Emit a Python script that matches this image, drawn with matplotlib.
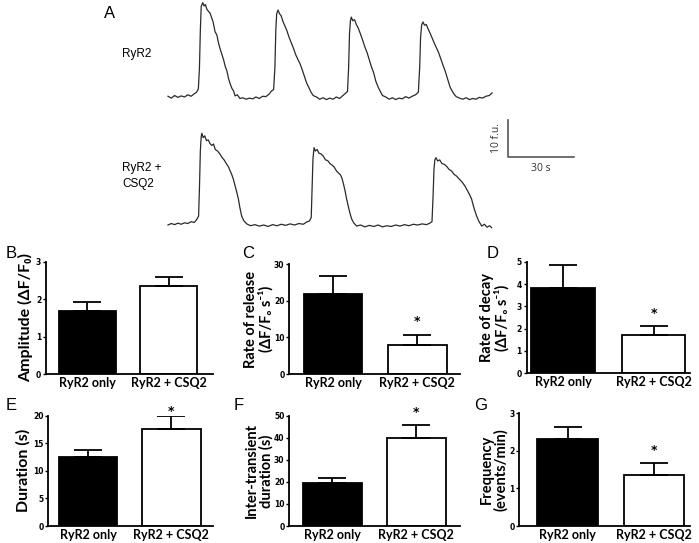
import matplotlib
matplotlib.use("Agg")
import matplotlib.pyplot as plt

# ---- panel A: raw fluorescence traces (time in s, signal in f.u.) ----
ryr2_t = [0, 1.5, 3, 4.5, 6, 7.5, 9, 10.5, 12, 13, 13.8, 14.3, 14.7, 15.1, 15.8, 16.4, 17.0, 17.6,
          18.3, 19.1, 19.8, 20.5, 21.4, 22.2, 23.0, 23.6, 24.5, 25.3, 26.0, 26.8, 27.5, 28.3, 29.0,
          29.8, 30.5, 31.5, 32.7, 34, 35.5, 37, 38.5, 40, 41.5, 43, 44.5, 46, 47, 48.0,
          48.6, 49.0, 49.4, 50.0, 50.7, 51.4, 52.2, 53.0, 54.0, 55.0, 55.8, 57.0, 58.0, 59.0, 60.0,
          61.0, 62.0, 63.0, 64.0, 65.0, 66.0, 67.5, 69, 70.5, 72, 73.5, 75, 76.5, 78, 79.5, 80.8, 81.6,
          82.1, 82.5, 82.9, 83.3, 84.0, 84.8, 85.6, 86.5, 87.5, 88.5, 89.5, 90.5, 91.5, 92.5, 93.5,
          94.5, 95.5, 96.5, 97.5, 99, 100.5, 102, 103.5, 105, 106.5, 108, 109.5, 111, 112.5, 113.8,
          114.4, 114.8, 115.3, 115.9, 116.6, 117.4, 118.3, 119.1, 120.0, 121.0, 122.0, 123.0, 124.0,
          125.0, 126.0, 127.0, 128.2, 129.0, 130.0, 131.0, 132.5, 134, 135.5, 137, 138.5, 140, 141.5,
          143, 144.5, 146, 147.3]
ryr2_f = [0.2, -0.3, 0.4, -0.1, 0.3, 0.0, 0.6, 0.2, 0.9, 1.3, 2.2, 8, 18, 24.5, 25.5, 24.6, 25.0, 23.8,
          23.2, 22.7, 21.5, 20.3, 17.6, 16.8, 14.5, 13.2, 11.5, 10.0, 8.3, 7.0, 5.0, 3.5, 2.4,
          1.6, 0.3, 0.6, -0.4, -0.2, -0.6, -0.3, -0.5, 0.0, -0.4, 0.2, 0.1, 0.8, 1.6, 2.0,
          8, 18, 22.5, 23.5, 22.5, 22.0, 20.5, 19.4, 18.0, 16.2, 15.0, 13.2, 11.5, 10.2, 9.0,
          7.4, 5.6, 3.8, 2.6, 1.3, 0.4, 0.0, -0.6, -0.2, -0.7, -0.3, -0.6, 0.0, -0.4, 0.4, 1.1, 1.5,
          8, 17, 20.5, 21.6, 20.6, 20.9, 19.6, 18.6, 17.0, 15.3, 13.5, 12.0, 10.0, 8.1, 6.5,
          4.2, 2.7, 1.5, 0.4, 0.0, -0.6, -0.2, -0.7, -0.3, -0.5, 0.1, -0.3, 0.2, 0.6, 1.3,
          8, 16, 19.5, 20.3, 19.4, 19.6, 18.3, 17.3, 16.0, 14.6, 13.3, 12.0, 10.3,
          8.6, 7.0, 5.0, 2.7, 1.8, 0.8, 0.1, -0.3, -0.6, -0.2, -0.7, -0.4, -0.6, -0.1,
          -0.3, 0.2, 0.4, 1.1]

csq2_t = [0, 1.5, 3, 4.5, 6, 7.5, 9, 10.5, 12, 13.2, 13.9, 14.3, 14.7, 15.1, 15.4, 16.0, 16.7, 17.5,
          18.3, 19.1, 19.9, 20.7, 21.5, 22.5, 23.6, 24.5, 25.5, 26.5, 27.4, 28.2, 29.0, 29.7, 30.4,
          31.2, 32.0, 32.7, 33.5, 34.5, 35.8, 37.5, 39.5, 41.5, 43.5, 45.5, 47.5, 49.5, 51.5, 53.5,
          55.5, 57.5, 59.5, 61.5, 63.0, 64.3, 65.1,
          65.5, 65.9, 66.4, 67.0, 67.8, 68.6, 69.6, 70.6, 71.6, 72.6, 73.6, 74.6, 75.6, 76.6, 77.6,
          78.3, 79.0, 79.8, 80.5, 81.2, 81.9, 82.6, 83.5, 84.5, 85.8, 87.5, 89.5, 91.5, 93.5, 95.5,
          97.5, 99.5, 101.5, 103.5, 105.5, 107.5, 109.5, 111.5, 113.5, 115.5, 117.5, 119.0, 120.0,
          120.5, 120.9, 121.3, 121.8, 122.6, 123.5, 124.5, 125.6, 126.7, 127.8, 128.9, 130.0, 131.2,
          132.4, 133.7, 135.0, 136.0, 137.0, 138.0, 138.8, 139.5, 140.3, 141.3, 142.6, 143.8, 145.0,
          146.2, 147.1]
csq2_f = [0.0, 0.4, 0.1, 0.5, 0.2, 0.6, 0.4, 0.9, 0.7, 1.6, 2.4, 10, 20, 24.0, 24.8, 23.6, 24.1, 22.8,
          23.0, 22.0, 21.5, 21.9, 20.4, 20.0, 19.2, 18.3, 17.6, 16.6, 15.8, 14.7, 13.6, 12.4, 10.8,
          9.0, 7.0, 4.6, 2.4, 1.1, 0.3, -0.2, 0.1, -0.3, 0.0, -0.4, 0.1, -0.2, 0.2, -0.1,
          0.3, 0.0, 0.4, 0.2, 0.8, 1.1, 2.0,
          10, 18, 20.9, 20.0, 20.4, 19.4, 19.2, 18.6, 17.6, 17.4, 16.6, 16.2, 15.6, 14.6, 14.0,
          13.6, 12.8, 11.0, 9.2, 7.0, 5.2, 3.4, 1.6, 0.5, -0.3, 0.0, -0.5, -0.1, -0.4, 0.0,
          -0.5, -0.2, -0.4, 0.0, -0.3, 0.1, -0.2, 0.2, 0.0, 0.3, 0.1, 0.5, 0.9,
          8, 15, 17.6, 18.2, 17.3, 17.6, 16.6, 16.4, 15.8, 15.0, 14.6, 13.7, 13.2,
          12.4, 11.6, 10.5, 9.4, 8.3, 7.0, 5.2, 3.8, 2.4, 1.0, -0.3, 0.2, -0.6,
          -0.2, -0.7]

# ---- panels B-G: mean and SEM ----
groups = ['RyR2 only', 'RyR2 + CSQ2']
amplitude = [1.68, 2.35]
amplitude_err = [0.24, 0.23]
release = [21.7, 7.9]
release_err = [5.1, 2.7]
decay = [3.81, 1.72]
decay_err = [1.06, 0.41]
duration = [12.6, 17.5]
duration_err = [1.1, 2.5]
inter = [19.3, 39.7]
inter_err = [2.4, 6.1]
frequency = [2.31, 1.36]
frequency_err = [0.33, 0.33]

W, H = 699, 543


def box(l, t, r, b):
    return [l / W, 1 - b / H, (r - l) / W, (b - t) / H]


fig = plt.figure(figsize=(W / 100, H / 100), dpi=100)
label_font = ['Lato', 'DejaVu Sans']

# panel A
axA = fig.add_axes(box(160, 0, 580, 235))
px_s, px_fu = 2.2, 3.7   # pixels per s and per f.u.
axA.set_xlim((160 - 168) / px_s, (580 - 168) / px_s)
axA.set_ylim((225 - 235) / px_fu, 225 / px_fu)
offset = (225 - 97) / px_fu
axA.plot(ryr2_t, [f + offset for f in ryr2_f], color='#2a2a2a', lw=0.9)
axA.plot(csq2_t, csq2_f, color='#2a2a2a', lw=0.9)
sb_x = (507.7 - 168) / px_s
sb_y = (225 - 157.3) / px_fu
axA.plot([sb_x, sb_x, sb_x + 30], [sb_y + 10, sb_y, sb_y], color='#555555', lw=1.2)
axA.text(sb_x - 5, sb_y + 5.3, '10 f.u.', rotation=90, ha='center', va='center', fontsize=7.5,
         family='Open Sans', color='#333333')
axA.text(sb_x + 15, sb_y - 2.9, '30 s', ha='center', va='center', fontsize=7.5,
         family='Open Sans', color='#333333')
axA.axis('off')

fig.text(110 / W, 1 - 13 / H, 'A', fontsize=12, family='Liberation Sans', ha='center', va='center')
fig.text(122 / W, 1 - 54 / H, 'RyR2', fontsize=8.5, family='Liberation Sans', ha='left', va='center')
fig.text(122 / W, 1 - 176 / H, 'RyR2 +\nCSQ2', fontsize=8.5, family='Liberation Sans', ha='left',
         va='center', linespacing=1.35)

panels = [
    ('B', amplitude, amplitude_err, 'Amplitude (ΔF/F₀)', [0, 1, 2, 3], None),
    ('C', release, release_err, 'Rate of release\n(ΔF/F₀ s⁻¹)', [0, 10, 20, 30], 14.3),
    ('D', decay, decay_err, 'Rate of decay\n(ΔF/F₀ s⁻¹)', [0, 1, 2, 3, 4, 5], 2.69),
    ('E', duration, duration_err, 'Duration (s)', [0, 5, 10, 15, 20], 20.7),
    ('F', inter, inter_err, 'Inter-transient\nduration (s)', [0, 10, 20, 30, 40, 50], 51.4),
    ('G', frequency, frequency_err, 'Frequency\n(events/min)', [0, 1, 2, 3], 2.02),
]
# (left, right, top, bottom) px, xlim, ylabel x px, panel letter x,y px
layout = [
    ((46, 213, 261.7, 374), (-0.512, 1.549), 26, (6, 254)),
    ((289.3, 460, 264, 374), (-0.52, 1.51), 259, (242, 254)),
    ((526.7, 690, 261.7, 373.3), (-0.40, 1.40), 495, (487, 254)),
    ((48.3, 213, 415.7, 526), (-0.48, 1.50), 23, (6, 406)),
    ((289.3, 460, 415.7, 526), (-0.51, 1.52), 259, (234, 406)),
    ((519.3, 690, 413.3, 526), (-0.56, 1.42), 494, (474, 406)),
]

for (letter, vals, errs, ylab, ticks, star), (pos, xl, ylab_x, lpos) in zip(panels, layout):
    l, r, t, b = pos
    ax = fig.add_axes(box(l, t, r, b))
    ax.bar([0, 1], vals, width=0.7, color=['black', 'white'], edgecolor='black', linewidth=1.3,
           yerr=[[0, 0], errs], error_kw=dict(ecolor='black', elinewidth=1.3, capsize=10,
                                              capthick=1.3), zorder=2)
    ax.set_xlim(*xl)
    ax.set_ylim(ticks[0], ticks[-1])
    ax.set_yticks(ticks)
    ax.set_yticklabels([str(v) for v in ticks], fontsize=5.5, fontweight='bold')
    ax.set_xticks([0, 1])
    ax.set_xticklabels(groups, fontsize=9, fontweight='bold', family=label_font)
    ax.tick_params(axis='x', length=0, pad=2)
    ax.tick_params(axis='y', length=2.5, width=1, pad=1)
    for s in ['top', 'right']:
        ax.spines[s].set_visible(False)
    for s in ['left', 'bottom']:
        ax.spines[s].set_linewidth(1.3)
    if star is not None:
        ax.text(1, star, '*', ha='center', va='center', fontsize=9, fontweight='bold')
    two_line = '\n' in ylab
    fig.text(ylab_x / W, 1 - (t + b) / 2 / H, ylab, rotation=90, ha='center', va='center',
             fontsize=10.5 if two_line else 11.5, fontweight='bold', family=label_font,
             linespacing=1.0)
    fig.text(lpos[0] / W, 1 - lpos[1] / H, letter, fontsize=12, family='Liberation Sans',
             ha='left', va='center')

fig.savefig('out.png', dpi=100)
